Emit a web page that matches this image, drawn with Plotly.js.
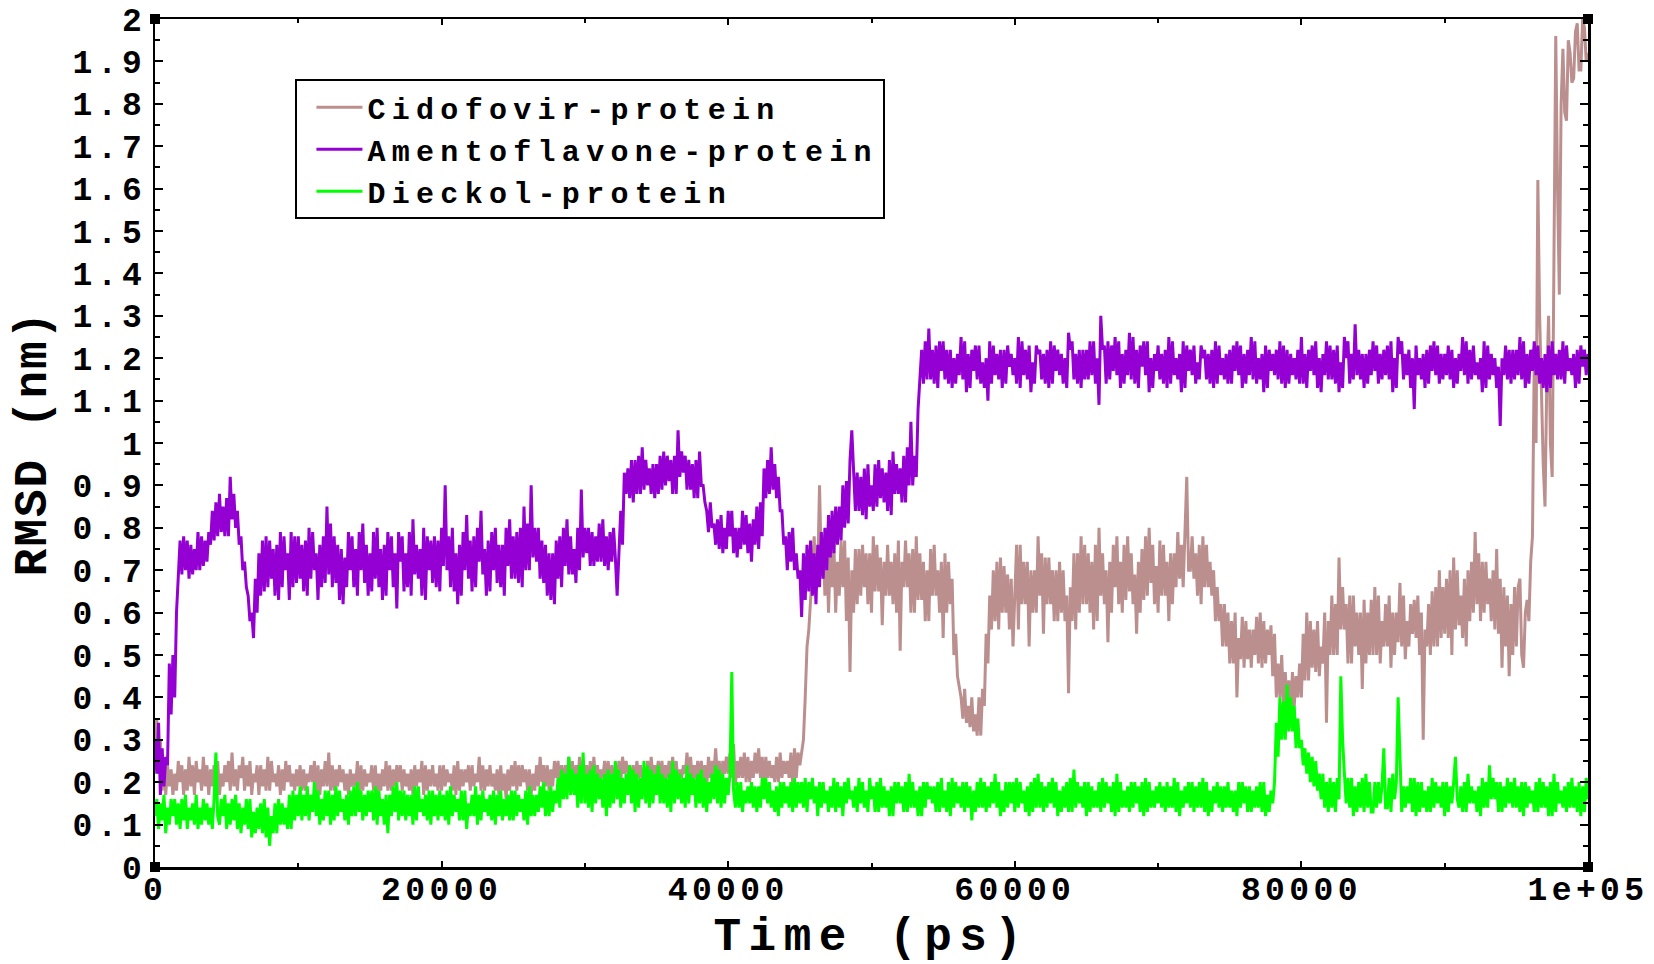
<!DOCTYPE html>
<html>
<head>
<meta charset="utf-8">
<script src="https://cdn.plot.ly/plotly-3.0.1.min.js"></script>
<style>
  html, body { margin:0; padding:0; background:#fff; }
  #chart { width:1654px; height:964px; }
  .xtick text { letter-spacing: 4.4px; }
  .ytick text { letter-spacing: 5px; }
  .legendtext { letter-spacing: 6.3px; }
  .xtitle { letter-spacing: 7.5px; }
  .ytitle { letter-spacing: 2px; }
</style>
</head>
<body>
<div id="chart"></div>
<script>
// ---- data (RMSD in nm, sampled every 125 ps from 0 to 100000 ps) ----
const sampleStep = 125;

const cidofovir = [
0.28,0.35,0.22,0.30,0.18,0.25,0.17,0.24,0.19,0.23,0.17,0.22,0.18,0.25,0.20,0.24,0.17,0.23,0.18,0.26,0.19,0.24,0.17,0.25,0.20,0.23,0.18,0.26,0.19,0.24,0.17,0.23,0.19,0.24,0.18,0.25,0.17,0.22,0.19,0.24,
0.20,0.25,0.18,0.27,0.19,0.23,0.18,0.24,0.21,0.26,0.18,0.24,0.19,0.25,0.17,0.22,0.20,0.24,0.17,0.24,0.19,0.23,0.18,0.26,0.18,0.25,0.20,0.22,0.19,0.24,0.17,0.23,0.18,0.25,0.20,0.24,0.19,0.22,0.18,0.23,
0.19,0.24,0.18,0.23,0.18,0.22,0.20,0.24,0.20,0.25,0.17,0.24,0.17,0.23,0.19,0.25,0.19,0.27,0.18,0.24,0.18,0.23,0.19,0.24,0.20,0.23,0.18,0.22,0.17,0.23,0.19,0.22,0.19,0.25,0.17,0.24,0.18,0.23,0.19,0.22,
0.20,0.24,0.18,0.24,0.17,0.22,0.18,0.23,0.19,0.25,0.18,0.24,0.18,0.23,0.19,0.24,0.20,0.24,0.18,0.23,0.19,0.22,0.18,0.23,0.17,0.24,0.19,0.23,0.20,0.25,0.17,0.24,0.18,0.23,0.19,0.24,0.19,0.22,0.18,0.24,
0.18,0.24,0.19,0.23,0.20,0.22,0.18,0.24,0.17,0.25,0.18,0.23,0.19,0.23,0.20,0.24,0.18,0.24,0.19,0.22,0.20,0.26,0.18,0.24,0.18,0.23,0.19,0.24,0.19,0.22,0.18,0.23,0.17,0.24,0.18,0.22,0.16,0.23,0.18,0.24,
0.19,0.25,0.18,0.24,0.19,0.24,0.20,0.23,0.18,0.23,0.17,0.22,0.18,0.24,0.19,0.26,0.20,0.24,0.19,0.24,0.18,0.23,0.19,0.25,0.21,0.25,0.20,0.24,0.19,0.24,0.20,0.26,0.21,0.25,0.19,0.24,0.20,0.26,0.21,0.25,
0.21,0.24,0.19,0.25,0.19,0.26,0.20,0.24,0.20,0.23,0.21,0.25,0.21,0.25,0.19,0.24,0.19,0.24,0.20,0.25,0.20,0.26,0.22,0.25,0.22,0.24,0.19,0.24,0.19,0.25,0.21,0.24,0.21,0.23,0.20,0.25,0.20,0.26,0.21,0.24,
0.22,0.25,0.21,0.25,0.20,0.24,0.21,0.25,0.21,0.26,0.20,0.25,0.19,0.23,0.21,0.24,0.22,0.27,0.21,0.26,0.20,0.24,0.21,0.25,0.21,0.25,0.20,0.24,0.19,0.26,0.21,0.25,0.22,0.28,0.21,0.25,0.20,0.25,0.22,0.26,
0.22,0.27,0.21,0.29,0.19,0.25,0.21,0.26,0.21,0.27,0.20,0.26,0.20,0.25,0.21,0.27,0.22,0.28,0.21,0.26,0.19,0.26,0.21,0.25,0.21,0.24,0.20,0.26,0.20,0.27,0.21,0.25,0.22,0.25,0.21,0.27,0.19,0.28,0.21,0.27,
0.24,0.27,0.30,0.40,0.52,0.56,0.62,0.70,0.78,0.66,0.70,0.90,0.70,0.76,0.64,0.76,0.60,0.74,0.66,0.76,0.60,0.72,0.64,0.77,0.66,0.77,0.58,0.73,0.46,0.70,0.60,0.75,0.62,0.75,0.64,0.76,0.66,0.74,0.62,0.74,
0.60,0.78,0.65,0.76,0.65,0.73,0.57,0.72,0.64,0.76,0.64,0.72,0.62,0.74,0.60,0.77,0.51,0.72,0.66,0.77,0.66,0.74,0.60,0.75,0.60,0.78,0.63,0.74,0.63,0.72,0.58,0.70,0.58,0.75,0.64,0.76,0.64,0.70,0.60,0.72,
0.54,0.74,0.60,0.72,0.62,0.68,0.50,0.55,0.45,0.42,0.40,0.35,0.42,0.34,0.38,0.33,0.40,0.32,0.36,0.31,0.40,0.31,0.42,0.38,0.55,0.48,0.64,0.56,0.70,0.58,0.72,0.56,0.73,0.60,0.71,0.60,0.69,0.56,0.68,0.52,
0.66,0.76,0.56,0.76,0.62,0.72,0.62,0.72,0.52,0.70,0.60,0.70,0.60,0.78,0.64,0.74,0.55,0.73,0.62,0.73,0.62,0.70,0.58,0.70,0.58,0.72,0.60,0.70,0.58,0.64,0.41,0.66,0.58,0.74,0.56,0.74,0.60,0.78,0.62,0.76,
0.62,0.74,0.60,0.72,0.56,0.76,0.58,0.80,0.64,0.74,0.62,0.70,0.53,0.72,0.60,0.76,0.66,0.78,0.62,0.72,0.60,0.76,0.63,0.78,0.65,0.74,0.62,0.69,0.55,0.72,0.60,0.75,0.63,0.78,0.64,0.80,0.67,0.76,0.62,0.71,
0.60,0.77,0.64,0.76,0.64,0.72,0.58,0.74,0.62,0.74,0.66,0.79,0.68,0.76,0.66,0.80,0.92,0.70,0.70,0.78,0.68,0.74,0.64,0.76,0.62,0.78,0.66,0.76,0.66,0.72,0.64,0.70,0.58,0.66,0.58,0.62,0.52,0.62,0.52,0.60,
0.48,0.58,0.48,0.60,0.40,0.54,0.49,0.59,0.47,0.58,0.49,0.56,0.47,0.56,0.50,0.59,0.48,0.60,0.47,0.58,0.48,0.56,0.50,0.57,0.45,0.55,0.40,0.48,0.40,0.50,0.38,0.46,0.38,0.44,0.36,0.46,0.38,0.45,0.40,0.48,
0.40,0.55,0.44,0.60,0.44,0.58,0.47,0.56,0.46,0.58,0.45,0.52,0.48,0.60,0.34,0.58,0.50,0.64,0.50,0.62,0.50,0.73,0.56,0.66,0.56,0.62,0.48,0.64,0.48,0.64,0.52,0.60,0.50,0.60,0.42,0.63,0.48,0.60,0.50,0.63,
0.50,0.66,0.50,0.64,0.48,0.58,0.52,0.62,0.52,0.64,0.47,0.60,0.50,0.60,0.53,0.67,0.52,0.64,0.49,0.58,0.52,0.62,0.55,0.63,0.54,0.64,0.50,0.60,0.30,0.56,0.52,0.62,0.50,0.65,0.52,0.66,0.52,0.70,0.54,0.66,
0.55,0.68,0.54,0.70,0.50,0.73,0.56,0.70,0.57,0.64,0.54,0.68,0.52,0.70,0.58,0.72,0.60,0.79,0.62,0.74,0.58,0.72,0.60,0.72,0.62,0.68,0.58,0.70,0.56,0.75,0.55,0.68,0.47,0.66,0.52,0.64,0.45,0.62,0.50,0.66,
0.52,0.66,0.68,0.50,0.47,0.60,0.63,0.58,0.72,0.78,1.20,1.00,1.62,1.30,1.10,0.95,0.85,1.15,1.30,1.00,0.92,1.45,1.96,1.60,1.35,1.80,1.93,1.78,1.76,1.95,1.92,1.85,1.86,1.97,1.99,1.88,1.88,2.00,1.98,1.90,
1.92
];

const amentoflavone = [
0.30,0.22,0.34,0.17,0.28,0.19,0.26,0.24,0.48,0.36,0.50,0.40,0.60,0.70,0.77,0.69,0.78,0.70,0.77,0.68,0.76,0.69,0.75,0.70,0.79,0.70,0.78,0.71,0.77,0.72,0.79,0.76,0.84,0.77,0.86,0.78,0.88,0.79,0.85,0.78,
0.87,0.78,0.92,0.82,0.88,0.80,0.84,0.76,0.78,0.70,0.72,0.66,0.64,0.58,0.60,0.54,0.68,0.60,0.74,0.64,0.77,0.65,0.78,0.66,0.77,0.68,0.75,0.64,0.76,0.63,0.79,0.66,0.78,0.70,0.74,0.63,0.79,0.66,0.78,0.67,
0.78,0.68,0.76,0.65,0.77,0.64,0.80,0.68,0.79,0.70,0.74,0.63,0.76,0.66,0.78,0.67,0.85,0.69,0.81,0.66,0.78,0.67,0.76,0.63,0.75,0.62,0.73,0.66,0.79,0.70,0.78,0.66,0.75,0.64,0.79,0.70,0.81,0.67,0.76,0.64,
0.74,0.65,0.79,0.68,0.80,0.66,0.75,0.63,0.76,0.64,0.79,0.70,0.78,0.66,0.74,0.61,0.79,0.72,0.78,0.65,0.74,0.66,0.79,0.64,0.82,0.69,0.76,0.68,0.75,0.64,0.80,0.63,0.78,0.70,0.77,0.67,0.78,0.66,0.77,0.65,
0.80,0.71,0.90,0.70,0.78,0.66,0.80,0.65,0.74,0.62,0.76,0.64,0.79,0.70,0.83,0.68,0.77,0.65,0.78,0.66,0.80,0.72,0.84,0.69,0.75,0.64,0.77,0.65,0.79,0.70,0.80,0.67,0.76,0.66,0.76,0.64,0.80,0.71,0.82,0.68,
0.78,0.68,0.79,0.67,0.80,0.66,0.85,0.70,0.81,0.70,0.90,0.73,0.80,0.72,0.80,0.68,0.77,0.67,0.76,0.64,0.74,0.63,0.74,0.62,0.77,0.68,0.78,0.66,0.80,0.71,0.82,0.69,0.78,0.69,0.75,0.67,0.80,0.70,0.89,0.73,
0.80,0.74,0.80,0.71,0.79,0.71,0.78,0.72,0.81,0.72,0.82,0.71,0.78,0.70,0.79,0.72,0.80,0.73,0.64,0.74,0.84,0.76,0.93,0.88,0.94,0.87,0.96,0.86,0.96,0.88,0.97,0.88,0.99,0.89,0.96,0.90,0.94,0.88,0.95,0.87,
0.95,0.88,0.97,0.89,0.98,0.90,0.97,0.91,0.96,0.88,0.97,0.88,1.03,0.92,0.98,0.93,0.97,0.89,0.96,0.89,0.95,0.87,0.96,0.87,0.98,0.90,0.90,0.86,0.84,0.79,0.86,0.80,0.81,0.76,0.82,0.75,0.83,0.74,0.80,0.75,
0.84,0.78,0.84,0.74,0.80,0.73,0.80,0.75,0.84,0.76,0.83,0.74,0.81,0.72,0.82,0.76,0.85,0.75,0.86,0.78,0.94,0.87,0.96,0.88,0.99,0.89,0.95,0.87,0.92,0.84,0.84,0.76,0.78,0.70,0.79,0.72,0.80,0.70,0.74,0.68,
0.70,0.59,0.74,0.63,0.76,0.65,0.77,0.64,0.74,0.62,0.76,0.66,0.79,0.68,0.80,0.70,0.83,0.73,0.84,0.74,0.85,0.76,0.85,0.77,0.90,0.80,0.91,0.81,0.96,1.03,0.92,0.84,0.93,0.84,0.92,0.83,0.94,0.82,0.95,0.85,
0.90,0.84,0.95,0.85,0.96,0.87,0.94,0.86,0.93,0.84,0.96,0.83,0.98,0.88,0.95,0.88,0.94,0.86,0.97,0.86,0.99,0.90,1.05,0.90,0.97,0.92,1.08,1.15,1.22,1.14,1.24,1.15,1.27,1.15,1.22,1.14,1.23,1.13,1.24,1.17,
1.24,1.15,1.22,1.14,1.22,1.13,1.20,1.14,1.21,1.16,1.25,1.15,1.24,1.12,1.21,1.13,1.22,1.17,1.23,1.15,1.23,1.14,1.19,1.13,1.20,1.10,1.24,1.14,1.23,1.16,1.21,1.15,1.22,1.13,1.22,1.14,1.23,1.18,1.21,1.16,
1.20,1.14,1.25,1.13,1.24,1.16,1.22,1.15,1.23,1.12,1.19,1.14,1.23,1.21,1.22,1.15,1.21,1.14,1.22,1.13,1.24,1.14,1.23,1.17,1.22,1.16,1.21,1.14,1.20,1.13,1.26,1.22,1.24,1.15,1.21,1.14,1.22,1.13,1.22,1.15,
1.22,1.15,1.24,1.16,1.24,1.14,1.20,1.09,1.30,1.22,1.23,1.14,1.24,1.15,1.23,1.17,1.25,1.16,1.24,1.13,1.21,1.14,1.22,1.16,1.26,1.15,1.25,1.14,1.22,1.13,1.23,1.18,1.24,1.16,1.24,1.12,1.20,1.13,1.21,1.17,
1.23,1.15,1.21,1.14,1.22,1.13,1.25,1.14,1.24,1.16,1.20,1.15,1.21,1.12,1.24,1.13,1.23,1.17,1.22,1.16,1.23,1.14,1.19,1.15,1.23,1.20,1.22,1.15,1.21,1.14,1.22,1.13,1.24,1.14,1.23,1.16,1.20,1.15,1.21,1.14,
1.22,1.14,1.23,1.17,1.24,1.16,1.23,1.13,1.21,1.14,1.22,1.16,1.25,1.15,1.24,1.14,1.20,1.15,1.21,1.12,1.23,1.13,1.22,1.17,1.21,1.16,1.22,1.15,1.24,1.14,1.23,1.13,1.22,1.14,1.21,1.16,1.20,1.15,1.22,1.14,
1.25,1.14,1.21,1.13,1.22,1.17,1.23,1.16,1.24,1.13,1.20,1.12,1.21,1.16,1.24,1.15,1.23,1.15,1.22,1.14,1.23,1.12,1.19,1.13,1.25,1.20,1.24,1.14,1.21,1.15,1.28,1.16,1.22,1.15,1.21,1.13,1.21,1.14,1.22,1.16,
1.24,1.17,1.23,1.14,1.21,1.15,1.22,1.16,1.23,1.15,1.24,1.12,1.20,1.13,1.25,1.21,1.24,1.15,1.21,1.16,1.22,1.13,1.20,1.08,1.23,1.16,1.20,1.15,1.21,1.13,1.22,1.14,1.23,1.17,1.24,1.16,1.23,1.14,1.21,1.15,
1.21,1.16,1.23,1.15,1.22,1.13,1.20,1.14,1.21,1.17,1.25,1.16,1.24,1.14,1.22,1.15,1.23,1.16,1.19,1.15,1.20,1.12,1.24,1.13,1.23,1.15,1.21,1.16,1.20,1.13,1.18,1.04,1.20,1.16,1.23,1.15,1.22,1.14,1.22,1.15,
1.22,1.16,1.25,1.15,1.24,1.13,1.21,1.14,1.22,1.17,1.24,1.16,1.23,1.14,1.20,1.13,1.21,1.12,1.23,1.13,1.24,1.16,1.21,1.15,1.22,1.15,1.24,1.14,1.23,1.17,1.20,1.16,1.21,1.13,1.22,1.14,1.23,1.18,1.22,1.16,
1.21
];

const dieckol = [
0.12,0.16,0.09,0.15,0.11,0.17,0.08,0.14,0.10,0.16,0.12,0.16,0.10,0.15,0.09,0.16,0.11,0.17,0.09,0.14,0.11,0.15,0.10,0.17,0.09,0.14,0.10,0.16,0.11,0.15,0.10,0.14,0.09,0.16,0.27,0.12,0.10,0.16,0.12,0.17,
0.09,0.15,0.10,0.16,0.11,0.17,0.09,0.15,0.08,0.14,0.10,0.16,0.09,0.16,0.07,0.13,0.08,0.14,0.09,0.15,0.08,0.16,0.07,0.14,0.05,0.12,0.08,0.15,0.08,0.16,0.10,0.15,0.10,0.14,0.09,0.17,0.09,0.18,0.11,0.17,
0.12,0.19,0.11,0.17,0.12,0.19,0.11,0.17,0.13,0.20,0.12,0.18,0.10,0.16,0.11,0.18,0.12,0.18,0.10,0.17,0.11,0.19,0.12,0.18,0.13,0.16,0.11,0.17,0.10,0.18,0.12,0.19,0.12,0.20,0.13,0.18,0.11,0.17,0.12,0.18,
0.13,0.18,0.11,0.19,0.10,0.18,0.12,0.16,0.10,0.17,0.08,0.17,0.12,0.19,0.13,0.20,0.11,0.18,0.12,0.18,0.11,0.17,0.12,0.17,0.10,0.19,0.11,0.19,0.13,0.16,0.12,0.17,0.11,0.18,0.10,0.18,0.12,0.17,0.11,0.18,
0.12,0.17,0.11,0.18,0.10,0.19,0.12,0.17,0.13,0.16,0.11,0.18,0.11,0.18,0.09,0.15,0.12,0.17,0.12,0.19,0.10,0.17,0.11,0.18,0.13,0.16,0.12,0.17,0.11,0.18,0.10,0.17,0.12,0.18,0.11,0.16,0.12,0.17,0.11,0.18,
0.11,0.18,0.12,0.17,0.13,0.16,0.11,0.18,0.10,0.19,0.12,0.17,0.12,0.17,0.13,0.19,0.14,0.20,0.12,0.18,0.12,0.19,0.13,0.18,0.15,0.21,0.14,0.23,0.16,0.22,0.16,0.26,0.17,0.23,0.17,0.22,0.14,0.24,0.15,0.27,
0.15,0.22,0.14,0.23,0.13,0.24,0.15,0.22,0.16,0.21,0.14,0.22,0.12,0.23,0.14,0.22,0.15,0.25,0.16,0.23,0.14,0.21,0.15,0.22,0.17,0.24,0.15,0.23,0.13,0.22,0.14,0.21,0.16,0.25,0.15,0.24,0.14,0.23,0.15,0.22,
0.17,0.24,0.15,0.22,0.15,0.21,0.14,0.22,0.13,0.25,0.15,0.23,0.16,0.22,0.15,0.21,0.14,0.24,0.15,0.22,0.17,0.21,0.14,0.22,0.15,0.23,0.14,0.21,0.13,0.20,0.15,0.22,0.16,0.24,0.15,0.23,0.14,0.22,0.15,0.21,
0.17,0.22,0.46,0.18,0.14,0.20,0.14,0.20,0.13,0.18,0.15,0.19,0.15,0.20,0.14,0.19,0.13,0.19,0.14,0.21,0.16,0.21,0.15,0.20,0.14,0.18,0.13,0.19,0.12,0.20,0.14,0.20,0.15,0.19,0.14,0.20,0.13,0.21,0.14,0.20,
0.15,0.20,0.14,0.21,0.13,0.20,0.16,0.21,0.15,0.19,0.12,0.20,0.14,0.20,0.15,0.18,0.13,0.19,0.14,0.21,0.13,0.20,0.14,0.19,0.12,0.20,0.15,0.21,0.16,0.18,0.14,0.19,0.13,0.21,0.15,0.20,0.14,0.18,0.13,0.21,
0.16,0.19,0.13,0.20,0.13,0.21,0.14,0.19,0.14,0.18,0.12,0.19,0.12,0.20,0.15,0.20,0.15,0.19,0.13,0.20,0.13,0.22,0.14,0.20,0.14,0.18,0.12,0.19,0.12,0.20,0.14,0.20,0.16,0.19,0.15,0.19,0.13,0.20,0.13,0.21,
0.14,0.18,0.13,0.20,0.12,0.21,0.14,0.20,0.15,0.19,0.14,0.20,0.13,0.20,0.14,0.19,0.11,0.18,0.13,0.20,0.14,0.21,0.14,0.20,0.13,0.19,0.14,0.20,0.15,0.22,0.14,0.20,0.12,0.18,0.13,0.20,0.14,0.20,0.15,0.20,
0.13,0.21,0.14,0.20,0.15,0.18,0.13,0.19,0.12,0.20,0.13,0.21,0.14,0.22,0.14,0.20,0.13,0.19,0.14,0.20,0.15,0.21,0.14,0.20,0.12,0.18,0.13,0.19,0.14,0.20,0.13,0.21,0.13,0.23,0.14,0.20,0.15,0.19,0.14,0.20,
0.12,0.20,0.13,0.19,0.14,0.18,0.14,0.20,0.13,0.21,0.14,0.20,0.15,0.19,0.13,0.20,0.12,0.22,0.13,0.20,0.14,0.18,0.14,0.19,0.13,0.20,0.14,0.20,0.15,0.19,0.13,0.20,0.12,0.21,0.13,0.20,0.14,0.18,0.14,0.19,
0.15,0.20,0.14,0.19,0.13,0.20,0.14,0.19,0.14,0.21,0.13,0.20,0.12,0.18,0.14,0.19,0.15,0.20,0.14,0.20,0.13,0.19,0.14,0.20,0.14,0.21,0.13,0.20,0.12,0.18,0.13,0.19,0.15,0.20,0.14,0.19,0.13,0.19,0.14,0.20,
0.14,0.18,0.13,0.18,0.12,0.20,0.14,0.20,0.15,0.19,0.13,0.19,0.13,0.18,0.14,0.19,0.14,0.20,0.13,0.20,0.12,0.17,0.13,0.18,0.15,0.20,0.34,0.26,0.40,0.30,0.39,0.30,0.43,0.32,0.40,0.32,0.38,0.28,0.35,0.28,
0.30,0.24,0.28,0.22,0.27,0.20,0.26,0.19,0.25,0.18,0.22,0.16,0.22,0.14,0.20,0.13,0.21,0.14,0.20,0.13,0.21,0.16,0.45,0.30,0.22,0.15,0.21,0.14,0.21,0.12,0.19,0.13,0.20,0.14,0.21,0.13,0.22,0.14,0.20,0.13,
0.13,0.20,0.14,0.20,0.15,0.19,0.28,0.14,0.14,0.21,0.13,0.22,0.16,0.20,0.40,0.24,0.13,0.19,0.14,0.19,0.15,0.21,0.13,0.21,0.12,0.20,0.13,0.20,0.14,0.18,0.13,0.19,0.13,0.21,0.14,0.20,0.15,0.19,0.14,0.20,
0.12,0.20,0.13,0.19,0.15,0.20,0.26,0.16,0.14,0.19,0.13,0.20,0.13,0.22,0.15,0.19,0.15,0.18,0.13,0.19,0.12,0.21,0.14,0.20,0.14,0.24,0.16,0.21,0.16,0.20,0.13,0.20,0.13,0.19,0.14,0.21,0.15,0.20,0.14,0.21,
0.14,0.19,0.13,0.20,0.12,0.20,0.14,0.19,0.15,0.18,0.13,0.20,0.13,0.21,0.14,0.20,0.14,0.19,0.12,0.20,0.12,0.22,0.13,0.20,0.15,0.18,0.14,0.19,0.13,0.20,0.14,0.21,0.14,0.19,0.13,0.20,0.12,0.19,0.13,0.21,
0.16
];

const seriesNames = ["Cidofovir-protein", "Amentoflavone-protein", "Dieckol-protein"];

const xTickVals = [0, 20000, 40000, 60000, 80000, 100000];
const xTickText = ["0", "20000", "40000", "60000", "80000", "1e+05"];
const xMinorVals = [10000, 30000, 50000, 70000, 90000];

const yTickVals = [0,0.1,0.2,0.3,0.4,0.5,0.6,0.7,0.8,0.9,1,1.1,1.2,1.3,1.4,1.5,1.6,1.7,1.8,1.9,2];
const yTickText = ["0","0.1","0.2","0.3","0.4","0.5","0.6","0.7","0.8","0.9","1","1.1","1.2","1.3","1.4","1.5","1.6","1.7","1.8","1.9","2"];
const yMinorVals = [0.05,0.15,0.25,0.35,0.45,0.55,0.65,0.75,0.85,0.95,1.05,1.15,1.25,1.35,1.45,1.55,1.65,1.75,1.85,1.95];

// ---- build ----
const FONT = "Liberation Mono, Courier New, monospace";
const colors = ["#bc8f8f", "#9400d3", "#00ff00"];
const seriesData = [cidofovir, amentoflavone, dieckol];

const traces = seriesData.map((vals, k) => ({
  x: vals.map((_, i) => i * sampleStep), y: vals,
  type: "scatter", mode: "lines",
  name: seriesNames[k],
  line: { color: colors[k], width: 3 }
}));

const axisCommon = {
  showline: true, linecolor: "#000", linewidth: 2.5, mirror: "ticks",
  ticks: "inside", tickcolor: "#000", tickwidth: 2,
  showgrid: false, zeroline: false,
  tickfont: { family: FONT, size: 33, color: "#000", weight: "bold" }
};

function corner(xp, yp) {
  return { type: "rect", xref: "paper", yref: "paper",
    xsizemode: "pixel", ysizemode: "pixel", xanchor: xp, yanchor: yp,
    x0: -5, x1: 5, y0: -5, y1: 5, fillcolor: "#000", line: { width: 0 } };
}

const layout = {
  width: 1654, height: 964,
  margin: { l: 155, r: 66, t: 19, b: 97 },
  paper_bgcolor: "#fff", plot_bgcolor: "#fff",
  showlegend: true,
  legend: {
    x: 0.098, y: 0.929, xanchor: "left", yanchor: "top",
    bgcolor: "#fff", bordercolor: "#000", borderwidth: 2,
    font: { family: FONT, size: 30, color: "#000", weight: "bold" },
    itemwidth: 46, indentation: 14, tracegroupgap: 0
  },
  xaxis: Object.assign({}, axisCommon, {
    range: [0, 100000], ticklen: 6,
    tickmode: "array", tickvals: xTickVals, ticktext: xTickText,
    ticklabelstandoff: -9,
    minor: { tickmode: "array", tickvals: xMinorVals, ticklen: 4, tickwidth: 2, tickcolor: "#000", ticks: "inside", showgrid: false },
    title: { text: "Time (ps)", standoff: 18, font: { family: FONT, size: 46, color: "#000", weight: "bold" } }
  }),
  yaxis: Object.assign({}, axisCommon, {
    range: [0, 2], ticklen: 8,
    tickmode: "array", tickvals: yTickVals, ticktext: yTickText,
    minor: { tickmode: "array", tickvals: yMinorVals, ticklen: 5, tickwidth: 2, tickcolor: "#000", ticks: "inside", showgrid: false },
    ticklabelstandoff: -1,
    title: { text: "RMSD (nm)", standoff: 12, font: { family: FONT, size: 46, color: "#000", weight: "bold" } }
  }),
  shapes: [corner(0, 0), corner(1, 0), corner(0, 1), corner(1, 1)]
};

Plotly.newPlot("chart", traces, layout, { displayModeBar: false, staticPlot: true });
</script>
</body>
</html>
